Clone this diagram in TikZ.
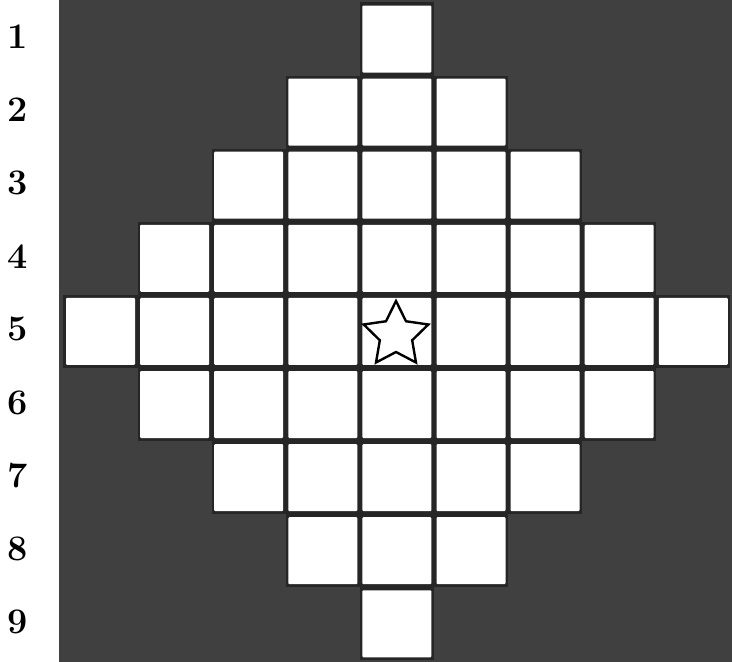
\documentclass[tikz,border=0pt]{standalone}
\usetikzlibrary{shapes.geometric}
\definecolor{bgdark}{HTML}{404040}
\tikzset{
  cell/.style={fill=white, draw=none, minimum width=69pt, minimum height=67pt, inner sep=0pt, rounded corners=1pt},
  cellbase/.style={fill=black!85, draw=none, minimum width=74.1pt, minimum height=73.1pt, inner sep=0pt},
  rownum/.style={font=\fontsize{36}{36}\selectfont\bfseries, inner sep=0pt}
}
\begin{document}
\begin{tikzpicture}[x=1pt,y=-1pt]
\useasboundingbox (0,0) rectangle (732,662);
\fill[white] (0,0) rectangle (732,662);
\fill[bgdark] (59,0) rectangle (732,662);
\foreach \r in {1,...,9}{
  \pgfmathsetmacro{\yy}{39+73.1*(\r-1)}
  \pgfmathtruncatemacro{\half}{4-abs(\r-5)}
  \pgfmathtruncatemacro{\lo}{5-\half}
  \pgfmathtruncatemacro{\hi}{5+\half}
  \foreach \c in {\lo,...,\hi}{
    \pgfmathsetmacro{\xx}{100.5+74.1*(\c-1)}
    \node[cellbase] (b\r-\c) at (\xx,\yy) {};
  }
}
\foreach \r in {1,...,9}{
  \pgfmathsetmacro{\yy}{39+73.1*(\r-1)}
  \node[rownum] (n\r) at (18,\yy-2) {\r};
  \pgfmathtruncatemacro{\half}{4-abs(\r-5)}
  \pgfmathtruncatemacro{\lo}{5-\half}
  \pgfmathtruncatemacro{\hi}{5+\half}
  \foreach \c in {\lo,...,\hi}{
    \pgfmathsetmacro{\xx}{100.5+74.1*(\c-1)}
    \node[cell] (c\r-\c) at (\xx,\yy) {};
  }
}
\node[star, star points=5, star point ratio=2.0, minimum size=68pt, inner sep=0pt,
      draw=black, line width=2.4pt, fill=white] (st) at (396,335) {};
\end{tikzpicture}
\end{document}
